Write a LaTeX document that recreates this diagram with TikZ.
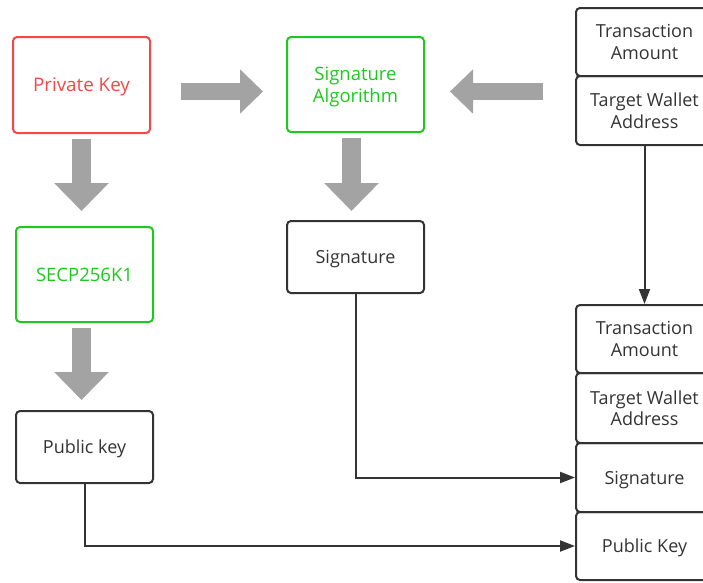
\documentclass[tikz,border=0pt]{standalone}
\usepackage{fontspec}
\setmainfont{Open Sans}
\usetikzlibrary{arrows.meta}
\definecolor{cred}{HTML}{F24848}
\definecolor{cgreen}{HTML}{1FC81F}
\definecolor{cdark}{HTML}{333333}
\definecolor{cgray}{HTML}{A3A3A3}
\begin{document}
\begin{tikzpicture}[x=1pt,y=-1pt,
  box/.style={draw=cdark,line width=2pt,rounded corners=4pt,minimum width=137pt,
    inner sep=0pt,align=center,text=cdark,text depth=0pt,font=\fontsize{18}{21.5}\selectfont},
  redbox/.style={box,draw=cred,text=cred,font=\fontsize{18.8}{22}\selectfont},
  greenbox/.style={box,draw=cgreen,text=cgreen,font=\fontsize{18.5}{22}\selectfont},
  conn/.style={draw=cdark,line width=2pt,-{Triangle[length=15pt,width=11pt]}},
  vblock/.style={draw=cgray,line width=19pt,-{Triangle[length=28pt,width=53pt]}},
  hblock/.style={draw=cgray,line width=17pt,-{Triangle[length=23pt,width=43pt]}}]
\useasboundingbox (0,0) rectangle (703,582);
\begin{scope}
\clip (0,0) rectangle (703,582);
\node[redbox,minimum height=96pt] (pk) at (81.5,85) {Private Key};
\node[greenbox,minimum height=95pt] (sa) at (355.5,84.5) {Signature\\Algorithm};
\node[box,minimum height=68pt] (ta1) at (644.5,42) {Transaction\\Amount};
\node[box,minimum height=69pt] (tw1) at (644.5,110.5) {Target Wallet\\Address};
\node[greenbox,minimum height=95pt] (secp) at (84.5,274.5) {SECP256K1};
\node[box,minimum height=72pt] (sig) at (355.5,257) {Signature};
\node[box,minimum height=72pt] (pub) at (84.5,447) {Public key};
\node[box,minimum height=68pt] (ta2) at (644.5,339) {Transaction\\Amount};
\node[box,minimum height=70pt] (tw2) at (644.5,408) {Target Wallet\\Address};
\node[box,minimum height=69pt] (sig2) at (644.5,477.5) {Signature};
\node[box,minimum height=68pt] (pub2) at (644.5,546) {Public Key};

% gray block arrows
\draw[hblock] (181,91.5) -- (263,91.5);
\draw[hblock] (543,91.5) -- (450,91.5);
\draw[vblock] (81.5,139) -- (81.5,211);
\draw[vblock] (81.5,328) -- (81.5,400);
\draw[vblock] (351.5,138) -- (351.5,211);

% connectors
\draw[conn] (tw1.south) -- (ta2.north);
\draw[conn] (sig.south) |- (sig2.west);
\draw[conn] (pub.south) |- (pub2.west);
\end{scope}
\end{tikzpicture}
\end{document}
